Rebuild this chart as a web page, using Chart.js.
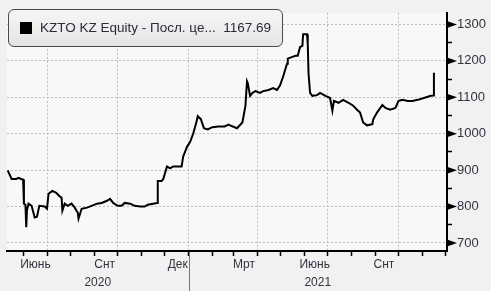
<!DOCTYPE html>
<html>
<head>
<meta charset="utf-8">
<script src="https://cdn.jsdelivr.net/npm/chart.js@4"></script>
<style>
  html, body { margin: 0; padding: 0; background: #f1f1f1; }
  #wrap { position: relative; width: 491px; height: 291px; overflow: hidden; }
  #legend {
    position: absolute; left: 8px; top: 9px; width: 273px; height: 36px;
    border: 1.5px solid #4a4a4a; border-radius: 6px;
    background: linear-gradient(#f6f6f6, #e4e4e4);
    font-family: "Liberation Sans", Arial, sans-serif; font-size: 13.5px; color: #2b2b3a;
    box-sizing: content-box;
  }
  #legend .sq { position: absolute; left: 11px; top: 12px; width: 12px; height: 12px; background: #000; }
  #legend .txt { position: absolute; left: 31px; top: 10px; white-space: pre; }
</style>
</head>
<body>
<div id="wrap">
  <canvas id="c" width="491" height="291"></canvas>
  <div id="legend"><div class="sq"></div><div class="txt" id="legtxt"></div></div>
</div>
<script>
// ---- data ----
const seriesName = "KZTO KZ Equity - Посл. це...";
const dates = [
  '2020-05-11','2020-05-14','2020-05-16','2020-05-22','2020-05-25','2020-05-29','2020-05-31',
  '2020-06-01','2020-06-03','2020-06-04','2020-06-05','2020-06-07','2020-06-11','2020-06-15',
  '2020-06-18','2020-06-21','2020-06-28','2020-07-01','2020-07-03','2020-07-08','2020-07-13',
  '2020-07-17','2020-07-20','2020-07-21','2020-07-24','2020-07-28','2020-08-02','2020-08-06',
  '2020-08-10','2020-08-11','2020-08-15','2020-08-22','2020-08-28','2020-09-04','2020-09-10',
  '2020-09-17','2020-09-21','2020-09-25','2020-10-01','2020-10-06','2020-10-10','2020-10-17',
  '2020-10-23','2020-10-30','2020-11-05','2020-11-09','2020-11-16','2020-11-21','2020-11-22',
  '2020-11-27','2020-11-29','2020-12-04','2020-12-08','2020-12-12','2020-12-23','2020-12-25',
  '2020-12-30','2021-01-03','2021-01-07','2021-01-11','2021-01-13','2021-01-17','2021-01-21',
  '2021-01-26','2021-02-01','2021-02-09','2021-02-17','2021-02-22','2021-02-24','2021-03-05',
  '2021-03-12','2021-03-16','2021-03-18','2021-03-19','2021-03-22','2021-03-25','2021-03-29',
  '2021-04-04','2021-04-08','2021-04-15','2021-04-21','2021-04-26','2021-04-30','2021-05-04',
  '2021-05-09','2021-05-10','2021-05-16','2021-05-20','2021-05-23','2021-05-26','2021-05-29',
  '2021-05-30','2021-06-04','2021-06-05','2021-06-06','2021-06-08','2021-06-11','2021-06-17',
  '2021-06-21','2021-06-28','2021-07-04','2021-07-07','2021-07-09','2021-07-15','2021-07-21',
  '2021-07-28','2021-08-03','2021-08-08','2021-08-12','2021-08-16','2021-08-21','2021-08-28',
  '2021-08-29','2021-09-03','2021-09-10','2021-09-14','2021-09-20','2021-09-27','2021-10-01',
  '2021-10-06','2021-10-13','2021-10-19','2021-10-26','2021-11-03','2021-11-12','2021-11-15',
  '2021-11-16'
];
const prices = [
  899,885,876,876,879,875,874,
  808,805,743,790,808,802,770,
  772,802,800,794,835,843,838,
  829,824,789,808,802,808,797,
  783,767,794,797,802,808,810,
  816,821,810,802,802,810,808,
  802,800,800,805,808,810,870,
  870,875,910,905,910,910,937,
  964,977,1000,1030,1048,1040,1015,
  1012,1018,1020,1020,1025,1023,1015,
  1031,1077,1144,1139,1104,1112,1117,
  1112,1117,1120,1125,1120,1133,1157,
  1192,1206,1211,1214,1214,1238,1241,
  1273,1273,1246,1165,1112,1104,1106,
  1112,1104,1098,1063,1090,1085,1093,
  1085,1077,1066,1058,1031,1023,1026,
  1039,1058,1079,1071,1066,1071,1090,
  1093,1090,1090,1093,1098,1104,1105,
  1167.69
];
const yTicks = [700, 800, 900, 1000, 1100, 1200, 1300];
const monthTickDates = ['2020-06-01','2020-07-01','2020-08-01','2020-09-01','2020-10-01','2020-11-01',
  '2020-12-01','2021-01-01','2021-02-01','2021-03-01','2021-04-01','2021-05-01','2021-06-01',
  '2021-07-01','2021-08-01','2021-09-01','2021-10-01','2021-11-01','2021-12-01'];
const gridDates = ['2020-07-01','2020-10-01','2021-01-01','2021-04-01','2021-07-01','2021-10-01'];
const monthLabels = ['Июнь','Снт','Дек','Мрт','Июнь','Снт'];
const monthLabelDates = ['2020-06-16','2020-09-14','2020-12-18','2021-03-14','2021-06-14','2021-09-12'];
const yearLabels = ['2020','2021'];
const yearSplit = '2021-01-01';
const xStart = '2020-05-10', xEnd = '2021-12-03';
const yMin = 678, yMax = 1332;

// ---- helpers ----
const ORIGIN = Date.UTC(2020, 5, 1);
function dayOf(s) { const p = s.split('-').map(Number); return (Date.UTC(p[0], p[1]-1, p[2]) - ORIGIN) / 86400000; }
const xMinD = dayOf(xStart), xMaxD = dayOf(xEnd), splitD = dayOf(yearSplit);
const points = dates.map((d, i) => ({ x: dayOf(d), y: prices[i] }));
const monthTicks = monthTickDates.map(dayOf);
const gridSet = new Set(gridDates.map(dayOf));
const monthLabelPos = monthLabelDates.map(dayOf);
const yearPos = [(xMinD + splitD) / 2, (splitD + xMaxD) / 2];

document.getElementById('legtxt').textContent = seriesName + '  ' + prices[prices.length - 1].toFixed(2);

const FONT = { family: '"Liberation Sans", Arial, sans-serif', size: 12 };
const YFONT = { family: '"Liberation Sans", Arial, sans-serif', size: 13 };
const LBL = '#333340';

const decor = {
  id: 'decor',
  beforeDraw(chart) {
    const { ctx, chartArea: a } = chart;
    ctx.save();
    ctx.fillStyle = '#f8f8f8';
    ctx.fillRect(a.left, a.top, a.right - a.left, a.bottom - a.top);
    ctx.restore();
  },
  afterDraw(chart) {
    const { ctx, chartArea: a } = chart;
    const ys = chart.scales.y, xs = chart.scales.x;
    ctx.save();
    ctx.fillStyle = '#000';
    yTicks.forEach(v => {
      const py = ys.getPixelForValue(v);
      ctx.beginPath();
      ctx.moveTo(a.right, py - 3.5);
      ctx.lineTo(a.right + 10, py);
      ctx.lineTo(a.right, py + 3.5);
      ctx.closePath();
      ctx.fill();
    });
    const sx = Math.round(xs.getPixelForValue(splitD)) + 0.5;
    ctx.strokeStyle = '#777';
    ctx.lineWidth = 1;
    ctx.beginPath();
    ctx.moveTo(sx, a.bottom + 1);
    ctx.lineTo(sx, 291);
    ctx.stroke();
    ctx.restore();
  }
};

new Chart(document.getElementById('c'), {
  type: 'line',
  data: {
    datasets: [{
      label: seriesName,
      data: points,
      borderColor: '#000',
      borderWidth: 2,
      pointRadius: 0,
      tension: 0,
      xAxisID: 'x',
      yAxisID: 'y'
    }]
  },
  options: {
    responsive: false,
    animation: false,
    layout: { padding: { left: 7, top: 8, right: 0, bottom: 0 } },
    plugins: { legend: { display: false }, tooltip: { enabled: false } },
    scales: {
      x: {
        type: 'linear', position: 'bottom', weight: 0,
        min: xMinD, max: xMaxD,
        afterBuildTicks: s => { s.ticks = monthTicks.map(v => ({ value: v })); },
        ticks: { callback: () => '', autoSkip: false, maxRotation: 0, font: FONT },
        grid: {
          color: c => (c.tick && gridSet.has(c.tick.value)) ? '#bdbdbd' : 'rgba(0,0,0,0)',
          tickColor: '#000', tickLength: 5, tickWidth: 1.5, lineWidth: 1
        },
        border: { color: '#000', width: 2, dash: [2, 2] },
        afterFit: s => { s.height = 6; }
      },
      xm: {
        type: 'linear', position: 'bottom', weight: 1,
        min: xMinD, max: xMaxD,
        afterBuildTicks: s => { s.ticks = monthLabelPos.map(v => ({ value: v })); },
        ticks: {
          autoSkip: false, maxRotation: 0, padding: 0, color: LBL, font: FONT,
          callback: (v) => { const i = monthLabelPos.indexOf(v); return i >= 0 ? monthLabels[i] : ''; }
        },
        grid: { display: false, drawTicks: false },
        border: { display: false },
        afterFit: s => { s.height = 14; }
      },
      xy: {
        type: 'linear', position: 'bottom', weight: 2,
        min: xMinD, max: xMaxD,
        afterBuildTicks: s => { s.ticks = yearPos.map(v => ({ value: v })); },
        ticks: {
          autoSkip: false, maxRotation: 0, padding: 4, color: LBL, font: FONT,
          callback: (v) => { const i = yearPos.indexOf(v); return i >= 0 ? yearLabels[i] : ''; }
        },
        grid: { display: false, drawTicks: false },
        border: { display: false },
        afterFit: s => { s.height = 20; }
      },
      y: {
        type: 'linear', position: 'right',
        min: yMin, max: yMax,
        afterBuildTicks: s => {
          const t = [];
          yTicks.forEach(v => { t.push({ value: v }); if (v + 50 < yMax) t.push({ value: v + 50 }); });
          s.ticks = t.sort((a, b) => a.value - b.value);
        },
        ticks: {
          autoSkip: false, padding: 5, color: LBL, font: YFONT,
          callback: v => (v % 100 === 0 ? String(v) : '')
        },
        grid: {
          color: c => (c.tick && c.tick.value % 100 === 0) ? '#bdbdbd' : 'rgba(0,0,0,0)',
          tickColor: c => (c.tick && c.tick.value % 100 === 0) ? 'rgba(0,0,0,0)' : '#000',
          tickLength: 5, tickWidth: 1.5
        },
        border: { color: '#000', width: 2, dash: [2, 2] },
        afterFit: s => { s.width = 44; }
      }
    }
  },
  plugins: [decor]
});
</script>
</body>
</html>
